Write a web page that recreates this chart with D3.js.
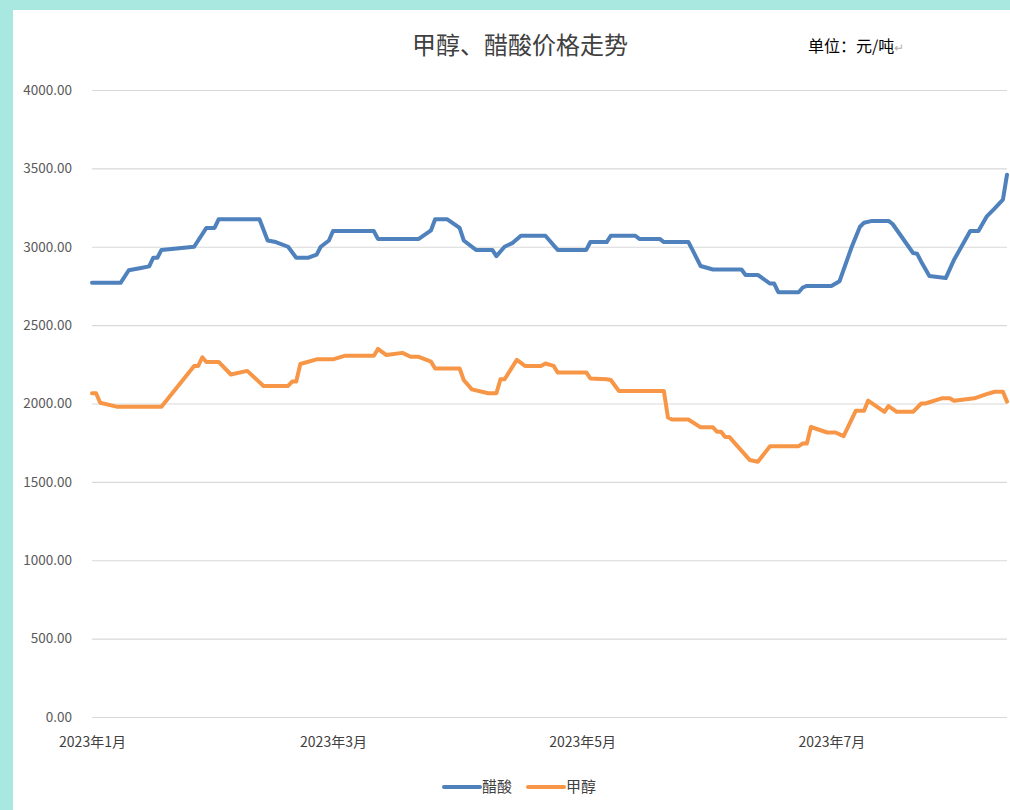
<!DOCTYPE html>
<html>
<head>
<meta charset="utf-8">
<script src="https://cdn.jsdelivr.net/npm/d3@7"></script>
<style>
  body { margin: 0; background: #a9e8e1; }
  #chart { position: absolute; left: 0; top: 0; }
  text { font-family: "Noto Sans CJK SC", "Noto Sans", sans-serif; }
</style>
</head>
<body>
<div id="chart"></div>
<script>
/* -----------------------
data
------------------------- */

var seriesNames = ["醋酸", "甲醇"];
var seriesColors = ["#4f81bd", "#f79646"];

// 醋酸 (acetic acid) price, yuan/ton
var aceticDates = ["2023-01-01","2023-01-08","2023-01-10","2023-01-13","2023-01-15","2023-01-16","2023-01-17","2023-01-18",
  "2023-01-26","2023-01-29","2023-01-31","2023-02-01","2023-02-11","2023-02-13","2023-02-15","2023-02-18","2023-02-20",
  "2023-02-23","2023-02-25","2023-02-26","2023-02-28","2023-03-01","2023-03-11","2023-03-12","2023-03-22","2023-03-25",
  "2023-03-26","2023-03-29","2023-04-01","2023-04-02","2023-04-05","2023-04-09","2023-04-10","2023-04-12","2023-04-14",
  "2023-04-16","2023-04-22","2023-04-25","2023-05-02","2023-05-03","2023-05-07","2023-05-08","2023-05-14","2023-05-15",
  "2023-05-20","2023-05-21","2023-05-27","2023-05-28","2023-05-30","2023-06-02","2023-06-09","2023-06-10","2023-06-13",
  "2023-06-16","2023-06-17","2023-06-18","2023-06-23","2023-06-24","2023-06-25","2023-07-01","2023-07-03","2023-07-06",
  "2023-07-08","2023-07-09","2023-07-11","2023-07-15","2023-07-16","2023-07-21","2023-07-22","2023-07-23","2023-07-25",
  "2023-07-29","2023-07-31","2023-08-04","2023-08-06","2023-08-08","2023-08-10","2023-08-12","2023-08-13"];
var aceticValues = [2770,2770,2850,2865,2875,2930,2930,2980,
  3000,3120,3120,3175,3175,3040,3030,3000,2930,
  2930,2950,3000,3040,3100,3100,3050,3050,3105,
  3175,3175,3120,3040,2980,2980,2940,3000,3025,
  3070,3070,2980,2980,3030,3030,3070,3070,3050,
  3050,3030,3030,2980,2877,2855,2855,2820,2820,
  2765,2765,2710,2710,2740,2750,2750,2780,3000,
  3128,3153,3165,3165,3145,2960,2955,2905,2813,
  2800,2915,3100,3100,3192,3245,3300,3460];

// 甲醇 (methanol) price, yuan/ton
var methanolDates = ["2023-01-01","2023-01-02","2023-01-03","2023-01-07","2023-01-18","2023-01-26","2023-01-27","2023-01-28",
  "2023-01-29","2023-02-01","2023-02-04","2023-02-08","2023-02-12","2023-02-18","2023-02-19","2023-02-20","2023-02-21",
  "2023-02-25","2023-03-01","2023-03-04","2023-03-11","2023-03-12","2023-03-14","2023-03-18","2023-03-20","2023-03-22",
  "2023-03-25","2023-03-26","2023-04-01","2023-04-02","2023-04-04","2023-04-08","2023-04-10","2023-04-11","2023-04-12",
  "2023-04-15","2023-04-17","2023-04-21","2023-04-22","2023-04-24","2023-04-25","2023-05-02","2023-05-03","2023-05-07",
  "2023-05-08","2023-05-10","2023-05-21","2023-05-22","2023-05-23","2023-05-27","2023-05-30","2023-06-02","2023-06-03",
  "2023-06-04","2023-06-05","2023-06-06","2023-06-11","2023-06-13","2023-06-16","2023-06-23","2023-06-24","2023-06-25",
  "2023-06-26","2023-06-30","2023-07-02","2023-07-04","2023-07-07","2023-07-09","2023-07-10","2023-07-14","2023-07-15",
  "2023-07-17","2023-07-21","2023-07-23","2023-07-24","2023-07-28","2023-07-30","2023-07-31","2023-08-05","2023-08-08",
  "2023-08-10","2023-08-12","2023-08-13"];
var methanolValues = [2065,2065,2005,1980,1980,2240,2240,2295,
  2265,2265,2185,2208,2112,2112,2140,2140,2252,
  2282,2282,2305,2305,2348,2310,2323,2298,2298,
  2267,2223,2223,2150,2090,2065,2065,2155,2155,
  2278,2240,2240,2255,2240,2198,2198,2160,2155,
  2150,2080,2080,1911,1898,1898,1848,1848,1820,
  1820,1787,1787,1640,1628,1728,1728,1745,1745,
  1850,1815,1815,1792,1954,1954,2018,1947,1984,
  1947,1947,2000,2000,2033,2033,2018,2033,2060,
  2075,2075,2012];

var yTicks = [0, 500, 1000, 1500, 2000, 2500, 3000, 3500, 4000];
var xTicks = ["2023-01-01", "2023-03-01", "2023-05-01", "2023-07-01"];

/* -----------------------
main variables
------------------------- */

var width = 1010;
var height = 810;
var plotLeft = 92, plotRight = 1007, plotTop = 90, plotBottom = 717;

var parse = d3.timeParse("%Y-%m-%d");

var svg = d3.select("#chart")
  .append("svg")
  .attr("width", width)
  .attr("height", height);

// teal frame, white card
svg.append("rect")
  .attr("x", 13).attr("y", 10)
  .attr("width", width - 13).attr("height", height - 10)
  .attr("fill", "#ffffff");

var x = d3.scaleTime()
  .domain([parse("2023-01-01"), parse("2023-08-13")])
  .range([plotLeft, plotRight]);

var y = d3.scaleLinear()
  .domain([0, 4000])
  .range([plotBottom, plotTop]);

/* -----------------------
axes
------------------------- */

var yAxis = svg.append("g")
  .attr("transform", "translate(" + plotLeft + ",0)")
  .call(d3.axisLeft(y)
    .tickValues(yTicks)
    .tickSize(-(plotRight - plotLeft))
    .tickPadding(20)
    .tickFormat(d3.format(".2f")));

yAxis.select(".domain").remove();
yAxis.selectAll(".tick line").attr("stroke", "#d9d9d9").attr("stroke-width", 1.2);
yAxis.selectAll(".tick text")
  .attr("fill", "#595959")
  .style("font-size", "13.5px");

var xAxis = svg.append("g")
  .attr("transform", "translate(0," + plotBottom + ")")
  .call(d3.axisBottom(x)
    .tickValues(xTicks.map(parse))
    .tickSize(0)
    .tickPadding(20)
    .tickFormat(function (d) { return d3.timeFormat("%Y")(d) + "年" + (d.getMonth() + 1) + "月"; }));

xAxis.select(".domain").remove();
xAxis.selectAll(".tick text")
  .attr("fill", "#404040")
  .style("font-size", "14px");

/* -----------------------
lines
------------------------- */

var line = d3.line()
  .x(function (d) { return x(d.date); })
  .y(function (d) { return y(d.value); });

var series = [
  { name: seriesNames[0], color: seriesColors[0],
    values: aceticDates.map(function (d, i) { return { date: parse(d), value: aceticValues[i] }; }) },
  { name: seriesNames[1], color: seriesColors[1],
    values: methanolDates.map(function (d, i) { return { date: parse(d), value: methanolValues[i] }; }) }
];

svg.selectAll(".series")
  .data(series)
  .enter()
  .append("path")
  .attr("class", "series")
  .attr("d", function (d) { return line(d.values); })
  .attr("fill", "none")
  .attr("stroke", function (d) { return d.color; })
  .attr("stroke-width", 4)
  .attr("stroke-linejoin", "round")
  .attr("stroke-linecap", "round");

/* -----------------------
title, unit, legend
------------------------- */

svg.append("text")
  .attr("x", 520).attr("y", 54)
  .attr("text-anchor", "middle")
  .attr("fill", "#404040")
  .style("font-size", "24px")
  .text("甲醇、醋酸价格走势");

svg.append("text")
  .attr("x", 808).attr("y", 52)
  .attr("fill", "#000000")
  .style("font-size", "16px")
  .text("单位：元/吨")
  .append("tspan")
  .attr("fill", "#b0b0b0")
  .style("font-size", "12px")
  .text("↵");

var legend = svg.selectAll(".legend")
  .data(series)
  .enter()
  .append("g")
  .attr("class", "legend")
  .attr("transform", function (d, i) { return "translate(" + (444 + i * 84) + ",787)"; });

legend.append("line")
  .attr("x1", 0).attr("x2", 36)
  .attr("stroke", function (d) { return d.color; })
  .attr("stroke-width", 4)
  .attr("stroke-linecap", "round");

legend.append("text")
  .attr("x", 38).attr("dy", "0.35em")
  .attr("fill", "#404040")
  .style("font-size", "15px")
  .text(function (d) { return d.name; });
</script>
</body>
</html>
